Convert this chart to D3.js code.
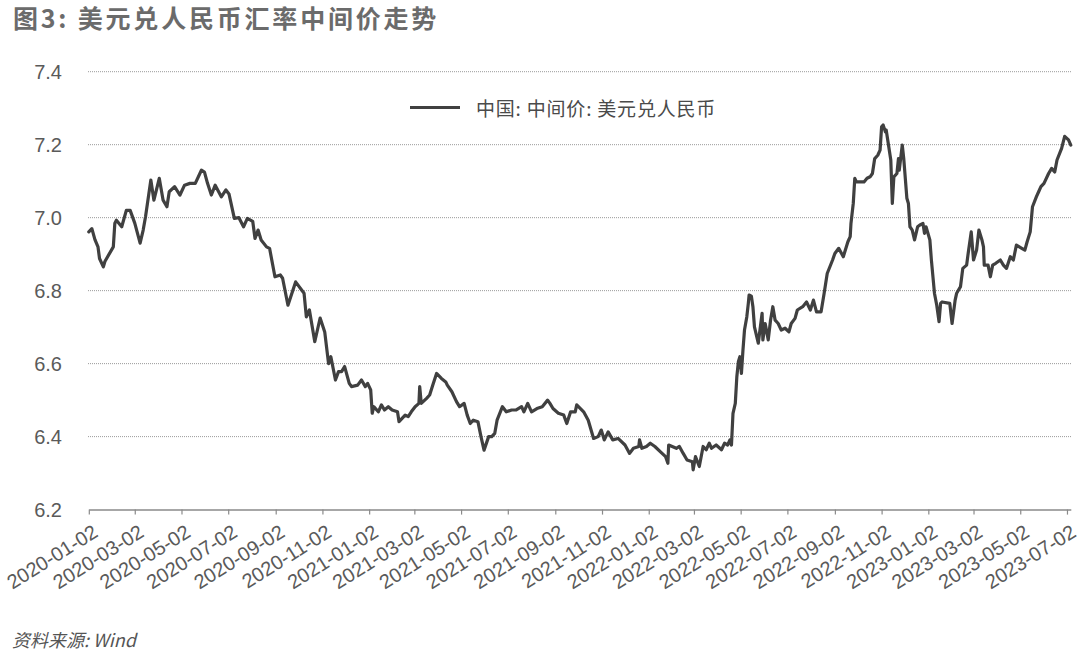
<!DOCTYPE html>
<html>
<head>
<meta charset="utf-8">
<script src="https://cdn.jsdelivr.net/npm/d3@7"></script>
<style>
  html, body { margin: 0; padding: 0; background: #ffffff; }
  svg { display: block; }
</style>
</head>
<body>
<svg id="chart" width="1080" height="652"></svg>
<script>
const title = "图3: 美元兑人民币汇率中间价走势";
const seriesName = "中国: 中间价: 美元兑人民币";
const sourceNote = "资料来源: Wind";

const yTicks = [6.2, 6.4, 6.6, 6.8, 7.0, 7.2, 7.4];
const xTickLabels = ["2020-01-02","2020-03-02","2020-05-02","2020-07-02","2020-09-02","2020-11-02",
  "2021-01-02","2021-03-02","2021-05-02","2021-07-02","2021-09-02","2021-11-02",
  "2022-01-02","2022-03-02","2022-05-02","2022-07-02","2022-09-02","2022-11-02",
  "2023-01-02","2023-03-02","2023-05-02","2023-07-02"];
const xDomain = ["2020-01-02", "2023-07-07"];

const dates = [
"2020-01-02","2020-01-06","2020-01-10","2020-01-14","2020-01-16","2020-01-21","2020-01-23","2020-02-03","2020-02-05","2020-02-07",
"2020-02-14","2020-02-20","2020-02-25","2020-03-02","2020-03-09","2020-03-13","2020-03-16","2020-03-23","2020-03-27","2020-04-03",
"2020-04-08","2020-04-13","2020-04-16","2020-04-23","2020-04-30","2020-05-06","2020-05-13","2020-05-20","2020-05-28","2020-06-01",
"2020-06-05","2020-06-10","2020-06-15","2020-06-23","2020-06-29","2020-07-03","2020-07-10","2020-07-16","2020-07-22","2020-07-27",
"2020-08-03","2020-08-06","2020-08-10","2020-08-14","2020-08-21","2020-08-25","2020-09-01","2020-09-08","2020-09-11","2020-09-18",
"2020-09-28","2020-10-09","2020-10-12","2020-10-16","2020-10-23","2020-10-30","2020-11-05","2020-11-10","2020-11-13","2020-11-19",
"2020-11-23","2020-11-27","2020-12-01","2020-12-07","2020-12-10","2020-12-18","2020-12-23","2020-12-28","2020-12-31",
"2021-01-04","2021-01-06","2021-01-08","2021-01-14","2021-01-18","2021-01-22","2021-01-27","2021-02-01","2021-02-08","2021-02-10",
"2021-02-18","2021-02-22","2021-02-26","2021-03-03","2021-03-08","2021-03-09","2021-03-11","2021-03-18","2021-03-22","2021-03-26",
"2021-03-31","2021-04-06","2021-04-12","2021-04-14","2021-04-20","2021-04-26","2021-04-30","2021-05-06","2021-05-10","2021-05-14",
"2021-05-18","2021-05-24","2021-05-28","2021-06-01","2021-06-07","2021-06-11","2021-06-15","2021-06-18","2021-06-25","2021-06-30",
"2021-07-07","2021-07-13","2021-07-20","2021-07-23","2021-07-28","2021-08-02","2021-08-09","2021-08-16","2021-08-23","2021-08-26",
"2021-08-30","2021-09-06","2021-09-13","2021-09-17","2021-09-22","2021-09-28","2021-09-30","2021-10-09","2021-10-15","2021-10-22",
"2021-10-28","2021-11-01","2021-11-05","2021-11-10","2021-11-16","2021-11-23","2021-12-02","2021-12-08","2021-12-13","2021-12-20",
"2021-12-21","2021-12-24","2021-12-30",
"2022-01-04","2022-01-10","2022-01-17","2022-01-24","2022-01-27","2022-01-28","2022-02-07","2022-02-11","2022-02-16","2022-02-21",
"2022-02-28","2022-03-01","2022-03-04","2022-03-09","2022-03-14","2022-03-18","2022-03-22","2022-03-25","2022-03-31","2022-04-07",
"2022-04-11","2022-04-15","2022-04-18","2022-04-20","2022-04-22","2022-04-25","2022-04-27","2022-04-29","2022-05-01","2022-05-03",
"2022-05-05","2022-05-07","2022-05-10","2022-05-12","2022-05-13","2022-05-16","2022-05-18","2022-05-20","2022-05-25","2022-05-30",
"2022-05-31","2022-06-03","2022-06-07","2022-06-10","2022-06-13","2022-06-16","2022-06-20","2022-06-24","2022-06-29","2022-07-04",
"2022-07-07","2022-07-12","2022-07-15","2022-07-22","2022-07-27","2022-08-01","2022-08-05","2022-08-09","2022-08-15","2022-08-19",
"2022-08-23","2022-08-30","2022-09-02","2022-09-07","2022-09-13","2022-09-19","2022-09-22","2022-09-23","2022-09-26","2022-09-28",
"2022-09-30","2022-10-10","2022-10-14","2022-10-18","2022-10-21","2022-10-24","2022-10-28","2022-10-31","2022-11-02","2022-11-04",
"2022-11-07","2022-11-08","2022-11-10","2022-11-14","2022-11-16","2022-11-18","2022-11-22","2022-11-24","2022-11-25","2022-11-29",
"2022-12-01","2022-12-05","2022-12-07","2022-12-09","2022-12-12","2022-12-15","2022-12-19","2022-12-22","2022-12-26","2022-12-28",
"2022-12-30",
"2023-01-04","2023-01-06","2023-01-10","2023-01-13","2023-01-16","2023-01-18","2023-01-20","2023-01-30","2023-02-02","2023-02-06",
"2023-02-08","2023-02-13","2023-02-16","2023-02-21","2023-02-23","2023-02-27","2023-03-02","2023-03-06","2023-03-09","2023-03-13",
"2023-03-15","2023-03-16","2023-03-21","2023-03-24","2023-03-27","2023-03-31","2023-04-06","2023-04-10","2023-04-14","2023-04-19",
"2023-04-23","2023-04-27","2023-05-04","2023-05-08","2023-05-11","2023-05-15","2023-05-18","2023-05-23","2023-05-26","2023-05-29",
"2023-06-02","2023-06-08","2023-06-12","2023-06-16","2023-06-19","2023-06-25","2023-06-29","2023-07-04","2023-07-07"
];

const values = [
6.961,6.970,6.940,6.920,6.888,6.865,6.880,6.920,6.985,6.993,
6.975,7.020,7.020,6.985,6.930,6.966,7.002,7.103,7.048,7.108,
7.048,7.030,7.071,7.085,7.062,7.089,7.094,7.094,7.130,7.125,
7.094,7.062,7.089,7.057,7.076,7.065,6.998,7.000,6.975,6.998,
6.990,6.943,6.966,6.939,6.920,6.916,6.838,6.843,6.834,6.760,
6.824,6.793,6.728,6.747,6.660,6.725,6.687,6.600,6.619,6.555,
6.578,6.578,6.592,6.546,6.537,6.541,6.555,6.537,6.546,
6.528,6.464,6.482,6.468,6.487,6.473,6.482,6.473,6.468,6.441,
6.459,6.455,6.468,6.482,6.491,6.537,6.491,6.505,6.514,6.541,
6.573,6.560,6.550,6.541,6.523,6.496,6.482,6.491,6.459,6.436,
6.445,6.441,6.400,6.363,6.400,6.400,6.409,6.445,6.482,6.468,
6.473,6.473,6.482,6.468,6.491,6.468,6.477,6.482,6.500,6.491,
6.477,6.464,6.459,6.436,6.468,6.468,6.487,6.468,6.445,6.395,
6.400,6.418,6.391,6.413,6.391,6.395,6.377,6.354,6.368,6.373,
6.391,6.368,6.373,
6.382,6.373,6.359,6.345,6.327,6.377,6.368,6.373,6.354,6.336,
6.331,6.309,6.345,6.318,6.373,6.364,6.382,6.368,6.377,6.364,
6.382,6.377,6.391,6.377,6.464,6.491,6.564,6.605,6.619,6.573,
6.637,6.692,6.728,6.765,6.788,6.785,6.756,6.701,6.656,6.738,
6.665,6.710,6.665,6.719,6.756,6.719,6.710,6.692,6.697,6.687,
6.710,6.724,6.747,6.756,6.769,6.747,6.774,6.742,6.742,6.793,
6.847,6.884,6.902,6.916,6.893,6.934,6.948,6.984,7.039,7.108,
7.098,7.098,7.108,7.112,7.121,7.162,7.171,7.185,7.249,7.254,
7.235,7.240,7.213,7.158,7.039,7.112,7.121,7.162,7.130,7.199,
7.160,7.053,7.039,6.975,6.966,6.939,6.975,6.980,6.984,6.957,
6.975,
6.939,6.884,6.793,6.760,6.715,6.765,6.769,6.765,6.710,6.774,
6.793,6.811,6.861,6.870,6.902,6.961,6.884,6.911,6.966,6.939,
6.920,6.870,6.870,6.838,6.870,6.875,6.884,6.870,6.861,6.893,
6.884,6.925,6.916,6.911,6.934,6.961,7.030,7.057,7.071,7.085,
7.094,7.121,7.135,7.125,7.158,7.190,7.223,7.213,7.199
];

const parse = d3.timeParse("%Y-%m-%d");
const fmt = d3.timeFormat("%Y-%m-%d");
const data = dates.map((d, i) => ({ date: parse(d), value: values[i] }));

const svg = d3.select("#chart");
const W = 1080, H = 652;
svg.append("rect").attr("width", W).attr("height", H).attr("fill", "#ffffff");

const x = d3.scaleTime().domain(xDomain.map(parse)).range([88.8, 1070.8]);
const y = d3.scaleLinear().domain([6.2, 7.4]).range([509.6, 71.7]);

const latin = "'Liberation Sans', Arial, 'Noto Sans CJK SC', sans-serif";
const cjk = "'Noto Sans CJK SC', 'Liberation Sans', sans-serif";

// Title
svg.append("text")
  .attr("x", 13).attr("y", 28)
  .attr("font-family", cjk).attr("font-weight", 700)
  .attr("font-size", 25).attr("letter-spacing", 2.8)
  .attr("fill", "#6b6b6b")
  .text(title);

// Grid lines
svg.append("g").selectAll("line")
  .data(yTicks.filter(v => v > 6.2))
  .join("line")
  .attr("x1", 88).attr("x2", 1071)
  .attr("y1", d => y(d)).attr("y2", d => y(d))
  .attr("stroke", "#9a9a9a").attr("stroke-width", 1)
  .attr("stroke-dasharray", "1,1");

// Y labels
svg.append("g").selectAll("text")
  .data(yTicks)
  .join("text")
  .attr("x", 62).attr("y", d => y(d))
  .attr("text-anchor", "end").attr("dominant-baseline", "central")
  .attr("font-family", latin).attr("font-size", 20)
  .attr("fill", "#5a5a5a")
  .text(d => d3.format(".1f")(d));

// X axis
const xAxis = d3.axisBottom(x)
  .tickValues(xTickLabels.map(parse))
  .tickFormat(fmt)
  .tickSize(5)
  .tickSizeOuter(0);

const gx = svg.append("g").attr("transform", `translate(0,${y(6.2)})`).call(xAxis);
gx.select(".domain").attr("stroke", "#8a8a8a").attr("stroke-width", 1.5);
gx.selectAll(".tick line").attr("stroke", "#8a8a8a").attr("stroke-width", 1.2);
gx.selectAll(".tick text")
  .attr("x", 0).attr("y", 0).attr("dy", 0)
  .attr("transform", "translate(10,26) rotate(-32)")
  .attr("text-anchor", "end")
  .attr("font-family", latin).attr("font-size", 20)
  .attr("fill", "#5a5a5a");

// Series line
const line = d3.line().x(d => x(d.date)).y(d => y(d.value));
svg.append("path")
  .datum(data)
  .attr("d", line)
  .attr("fill", "none")
  .attr("stroke", "#404040")
  .attr("stroke-width", 3.2)
  .attr("stroke-linejoin", "round")
  .attr("stroke-linecap", "round");

// Legend
svg.append("line")
  .attr("x1", 410).attr("x2", 460).attr("y1", 107.5).attr("y2", 107.5)
  .attr("stroke", "#404040").attr("stroke-width", 3);
svg.append("text")
  .attr("x", 476).attr("y", 107.5)
  .attr("dominant-baseline", "central")
  .attr("font-family", cjk).attr("font-size", 19)
  .attr("letter-spacing", 0.8)
  .attr("fill", "#4a4a4a")
  .text(seriesName);

// Source note
svg.append("text")
  .attr("x", 12).attr("y", 647)
  .attr("font-family", cjk).attr("font-size", 18)
  .attr("font-style", "italic")
  .attr("fill", "#555555")
  .text(sourceNote);
</script>
</body>
</html>
